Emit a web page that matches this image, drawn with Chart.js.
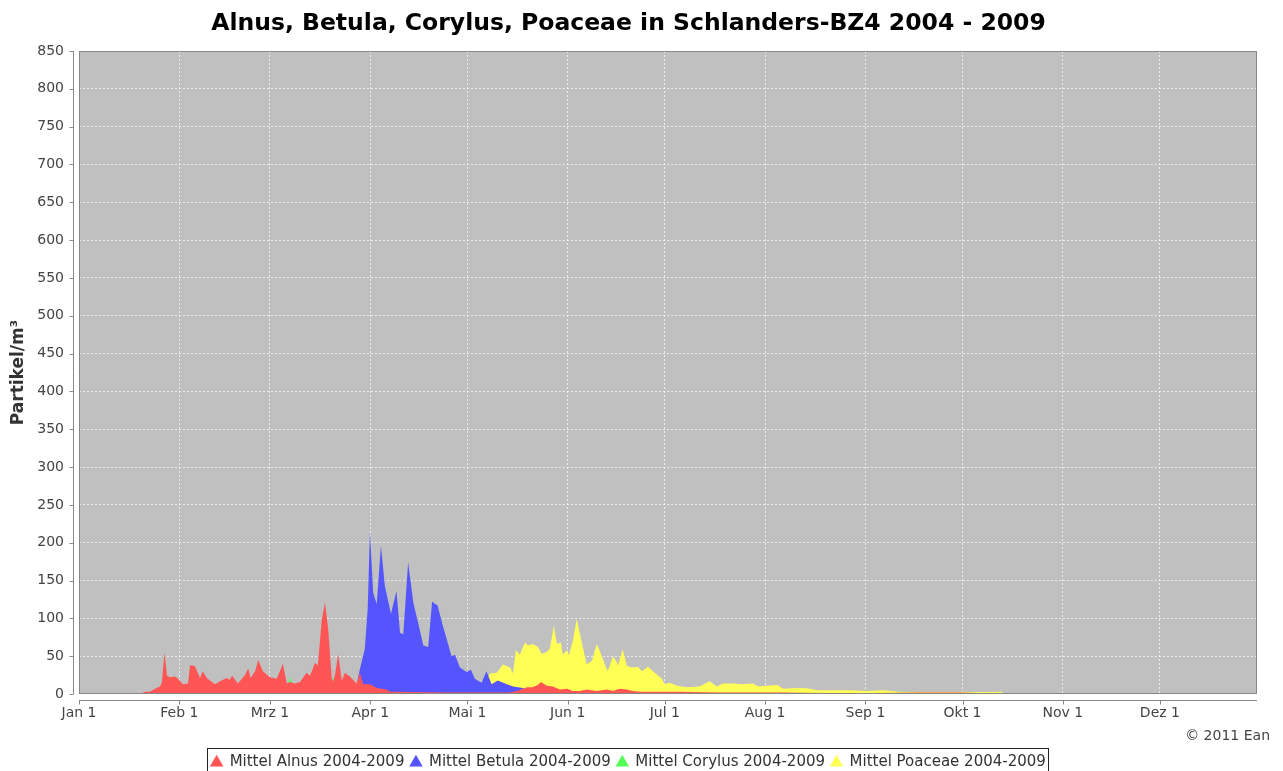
<!DOCTYPE html>
<html>
<head>
<meta charset="utf-8">
<script src="https://cdn.jsdelivr.net/npm/chart.js@4.4.0/dist/chart.umd.min.js"></script>
<style>
    html, body { margin: 0; padding: 0; background: #fff; }
</style>
</head>
<body>
<canvas id="pollenChart" width="1283" height="771"></canvas>
<script>
// Monatsanfänge (Tag im Jahr) und Beschriftungen
const monthStarts = [0, 31, 59, 90, 120, 151, 181, 212, 243, 273, 304, 334];
const monthLabels = ['Jan 1', 'Feb 1', 'Mrz 1', 'Apr 1', 'Mai 1', 'Jun 1', 'Jul 1', 'Aug 1', 'Sep 1', 'Okt 1', 'Nov 1', 'Dez 1'];

// Alnus (rot)
const alnusDays = [18.8, 20.4, 21.9, 23.5, 25, 25.6, 26.4, 27.2, 28.1, 29.7, 30.6, 32.1, 33.7, 34.3, 35.8, 37.4, 38.2, 39.5, 42, 43.6,
    45.6, 46.6, 47.3, 49.1, 51.3, 52.3, 53, 54.4, 55.4, 56.8, 59, 61.1, 63, 64.2, 65.2, 66.7, 68.3, 70.3, 71.4, 72.9,
    73.8, 75, 76, 77, 78.1, 78.6, 79.1, 80.1, 81.2, 82.2, 83.7, 85.8, 86.8, 87.8, 89.9, 92, 95, 96, 114.6, 133,
    135.3, 138.4, 140, 141.8, 142.7, 144.6, 146.4, 148.6, 150.8, 152.6, 154.8, 156.9, 160, 163.1, 165, 167.1, 169.3, 171.1, 173.3, 185.7,
    198, 216.6, 238.2, 259.8, 272.2, 281.4, 283];
const alnusVals = [0, 3, 3, 7, 10, 15, 55, 24, 22, 23, 20, 13, 14, 38, 37, 21, 30, 21, 13, 17,
    21, 19, 24, 14, 25, 34, 21, 30, 45, 30, 22, 20, 40, 14, 16, 14, 16, 28, 24, 41,
    38, 97, 121, 86, 20, 17, 25, 53, 18, 28, 23, 14, 28, 13, 13, 8, 6, 3, 2, 2,
    4, 9, 9, 12, 16, 11, 10, 6, 7, 4, 4, 6, 4, 6, 4, 7, 6, 4, 3, 3,
    2, 2, 1, 2, 2, 1, 0];

// Betula (blau)
const betulaDays = [84.6, 85.6, 86.2, 86.8, 88.3, 89.2, 89.9, 90.9, 92, 93.3, 94.5, 96.4, 98.1, 99.2, 100.2, 101.7, 103.3, 104.8, 106.4, 107.9,
    109.1, 110.8, 112.2, 113.6, 115.1, 116.2, 117.7, 119.8, 121.1, 122.3, 124.4, 125.9, 127.5, 129.4, 132.2, 134.1, 137.2, 139.3, 148.6, 173.3,
    191.8, 216.6, 222.7];
const betulaVals = [0, 5, 21, 33, 59, 112, 214, 134, 119, 196, 143, 106, 136, 81, 79, 174, 121, 94, 64, 62,
    122, 117, 94, 73, 50, 52, 35, 29, 32, 20, 15, 30, 13, 18, 13, 10, 8, 2, 1, 1,
    1, 1, 0];

// Corylus (grün)
const corylusDays = [19, 22, 25, 30, 40, 50, 60, 63, 64.5, 65.2, 66.2, 72, 78, 78.6, 79.3, 85, 92, 98];
const corylusVals = [0, 2, 4, 8, 9, 10, 11, 12, 11, 22, 10, 12, 14, 22, 12, 8, 3, 0];

// Poaceae (gelb)
const poaceaeDays = [124.8, 126.4, 127, 129.1, 131, 133.2, 134.1, 135, 136.2, 137.8, 138.7, 140.3, 141.8, 143, 144.6, 145.5, 146.7, 147.7, 148.9, 149.5,
    150.8, 151.4, 152.6, 153.8, 155.4, 156.9, 158.5, 160, 161, 162.5, 163.4, 165, 166.2, 166.5, 168, 169.3, 170.8, 172.7, 173.9, 175.8,
    177.9, 180.1, 181, 182.6, 184.7, 187.8, 191.8, 194.9, 197.1, 199, 202, 204.8, 208.2, 209.8, 212.5, 215.9, 217.5, 221.8, 224.9, 228,
    233, 238.2, 243.5, 248.4, 253.6, 258.9, 274.3, 282.4, 285.1, 285.8];
const poaceaeVals = [0, 22, 27, 28, 39, 35, 27, 58, 52, 68, 64, 66, 62, 53, 56, 60, 90, 66, 68, 52,
    58, 51, 70, 99, 67, 39, 44, 66, 56, 39, 30, 50, 42, 37, 59, 37, 35, 36, 30, 36,
    28, 20, 13, 15, 11, 9, 10, 17, 10, 14, 14, 13, 14, 10, 11, 12, 7, 8, 7.5, 5,
    5, 5, 4, 5, 3, 2.5, 2.5, 2.5, 3, 0];

const yTicks = [];
for (let v = 0; v <= 850; v += 50) yTicks.push(v);

function toPoints(days, vals) {
    return days.map((d, i) => ({ x: d, y: vals[i] }));
}

// Hintergrund der Zeichenfläche
const plotBackground = {
    id: 'plotBackground',
    beforeDraw(chart) {
        const { ctx, chartArea: a } = chart;
        ctx.save();
        ctx.fillStyle = '#c0c0c0';
        ctx.fillRect(a.left, a.top, a.right - a.left, a.bottom - a.top);
        ctx.restore();
    }
};

// Achsenlinien, Rahmen, Copyright und Legendenrahmen
const decorations = {
    id: 'decorations',
    afterDraw(chart) {
        const { ctx, chartArea: a } = chart;
        const xs = chart.scales.x, ys = chart.scales.y;
        ctx.save();
        ctx.strokeStyle = '#888';
        ctx.lineWidth = 1;
        ctx.strokeRect(a.left + 0.5, a.top + 0.5, a.right - a.left - 1, a.bottom - a.top - 1);

        const ax = Math.round(a.left - 6) + 0.5;
        ctx.beginPath();
        ctx.moveTo(ax, a.top);
        ctx.lineTo(ax, a.bottom);
        yTicks.forEach(v => {
            const py = Math.round(ys.getPixelForValue(v)) + 0.5;
            ctx.moveTo(ax - 4, py);
            ctx.lineTo(ax, py);
        });
        const ay = Math.round(a.bottom + 6) + 0.5;
        ctx.moveTo(a.left, ay);
        ctx.lineTo(a.right, ay);
        monthStarts.forEach(v => {
            const px = Math.round(xs.getPixelForValue(v)) + 0.5;
            ctx.moveTo(px, ay);
            ctx.lineTo(px, ay + 4);
        });
        ctx.stroke();

        ctx.fillStyle = '#444';
        ctx.font = '14px "DejaVu Sans"';
        ctx.textAlign = 'right';
        ctx.textBaseline = 'middle';
        ctx.fillText('\u00a9 2011 Ean', 1270, 736);

        const boxes = chart.legend.legendHitBoxes;
        if (boxes && boxes.length) {
            const l = Math.min(...boxes.map(b => b.left)) - 4;
            const r = Math.max(...boxes.map(b => b.left + b.width)) + 2;
            ctx.strokeStyle = '#222';
            ctx.strokeRect(Math.round(l) + 0.5, 748.5, Math.round(r - l), 30);
        }
        ctx.restore();
    }
};

Chart.defaults.font.family = '"DejaVu Sans", sans-serif';

const ctx = document.getElementById('pollenChart').getContext('2d');
const pollenChart = new Chart(ctx, {
    type: 'line',
    data: {
        datasets: [
            { label: 'Mittel Alnus 2004-2009', data: toPoints(alnusDays, alnusVals), backgroundColor: '#ff5555' },
            { label: 'Mittel Betula 2004-2009', data: toPoints(betulaDays, betulaVals), backgroundColor: '#5555ff' },
            { label: 'Mittel Corylus 2004-2009', data: toPoints(corylusDays, corylusVals), backgroundColor: '#55ff55' },
            { label: 'Mittel Poaceae 2004-2009', data: toPoints(poaceaeDays, poaceaeVals), backgroundColor: '#ffff55' }
        ].map(ds => Object.assign(ds, {
            fill: 'origin',
            borderWidth: 0,
            borderColor: 'rgba(0,0,0,0)',
            pointRadius: 0,
            pointStyle: 'triangle',
            tension: 0
        }))
    },
    options: {
        responsive: false,
        animation: false,
        events: [],
        layout: { padding: { left: 0, right: 26, top: 0, bottom: -9 } },
        scales: {
            x: {
                type: 'linear',
                min: 0,
                max: 364,
                afterBuildTicks: scale => { scale.ticks = monthStarts.map(v => ({ value: v })); },
                afterFit: scale => { scale.height = 55; },
                ticks: {
                    autoSkip: false,
                    maxRotation: 0,
                    padding: 11,
                    color: '#444',
                    font: { size: 14 },
                    callback: (value, index) => monthLabels[index]
                },
                grid: { color: 'rgba(255,255,255,0.7)', drawTicks: false },
                border: { display: false, dash: [2, 2] }
            },
            y: {
                min: 0,
                max: 850,
                afterBuildTicks: scale => { scale.ticks = yTicks.map(v => ({ value: v })); },
                afterFit: scale => { scale.width = 79; },
                ticks: {
                    autoSkip: false,
                    padding: 15,
                    color: '#444',
                    font: { size: 14 }
                },
                title: {
                    display: true,
                    text: 'Partikel/m³',
                    color: '#333',
                    font: { size: 17, weight: 'bold' },
                    padding: { top: 8, bottom: 0 }
                },
                grid: { color: 'rgba(255,255,255,0.7)', drawTicks: false },
                border: { display: false, dash: [2, 2] }
            }
        },
        plugins: {
            title: {
                display: true,
                text: 'Alnus, Betula, Corylus, Poaceae in Schlanders-BZ4 2004 - 2009',
                color: '#000',
                font: { size: 23.5, weight: 'bold' },
                padding: { top: 10, bottom: 12.8 }
            },
            legend: {
                position: 'bottom',
                labels: {
                    usePointStyle: true,
                    boxWidth: 11,
                    boxHeight: 11,
                    padding: 6,
                    color: '#333',
                    font: { size: 15 }
                }
            },
            tooltip: { enabled: false }
        }
    },
    plugins: [plotBackground, decorations]
});
</script>
</body>
</html>
